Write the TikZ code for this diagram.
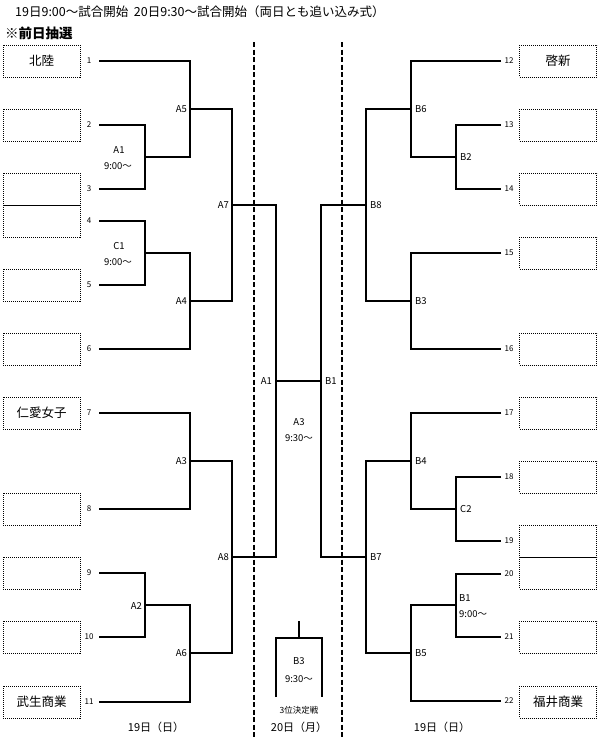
\documentclass[tikz,border=0pt]{standalone}
\usepackage{fontspec}
\setmainfont{Noto Sans CJK JP}
\begin{document}
\begin{tikzpicture}[x=1pt,y=-1pt,
  br/.style={line width=1.2pt},
  sep/.style={line width=1.5pt,dash pattern=on 5pt off 2.5pt},
  team/.style={draw,line width=0.8pt,dash pattern=on 1pt off 1pt,minimum width=77pt,minimum height=32pt,inner sep=0pt,font=\fontsize{12.5}{13}\selectfont},
  seed/.style={inner sep=0pt,font=\fontsize{8}{9}\selectfont},
  lab/.style={inner sep=0pt,font=\fontsize{9.5}{10}\selectfont},
  labl/.style={lab,anchor=east},
  labr/.style={lab,anchor=west},
  day/.style={inner sep=0pt,font=\fontsize{11}{12}\selectfont}]
\useasboundingbox (0,0) rectangle (600,739);
% title
\node[anchor=west,inner sep=0pt,font=\fontsize{12.5}{13}\selectfont] (title) at (15,12) {19日9:00～試合開始\ \ 20日9:30～試合開始（両日とも追い込み式）};
\node[anchor=west,inner sep=0pt,font=\fontsize{13.5}{14}\selectfont\bfseries] (note) at (5,33) {※前日抽選};
% separators
\coordinate (d1t) at (254,42); \coordinate (d1b) at (254,739);
\coordinate (d2t) at (342,42); \coordinate (d2b) at (342,739);
\draw[sep] (d1t) -- (d1b);
\draw[sep] (d2t) -- (d2b);
% left team boxes
\foreach \n/\y/\t in {1/61/北陸,2/125/,3/189/,4/221/,5/285/,6/349/,7/413/仁愛女子,8/509/,9/573/,10/637/,11/702/武生商業}{
  \node[team] (tl\n) at (41.5,\y) {\t};
  \node[seed] (nl\n) at (89,\y) {\n};
  \coordinate (L\n) at (99,\y);
}
% right team boxes
\foreach \n/\y/\yb/\t in {12/61/61/啓新,13/125/125/,14/189/189/,15/253/253/,16/349/349/,17/413/413/,18/477/477/,19/541/541/,20/574/573/,21/637/637/,22/701/702/福井商業}{
  \node[team] (tr\n) at (558,\yb) {\t};
  \node[seed] (nr\n) at (509,\y) {\n};
  \coordinate (R\n) at (501,\y);
}
% left joints
\coordinate (mA1) at (145,157);
\coordinate (mC1) at (145,253);
\coordinate (mA2) at (145,605);
\coordinate (mA5) at (190,109);
\coordinate (mA4) at (190,301);
\coordinate (mA3) at (190,461);
\coordinate (mA6) at (190,653);
\coordinate (mA7) at (232,205);
\coordinate (mA8) at (232,557);
\coordinate (mF) at (276,381);
% right joints
\coordinate (mB2) at (456,157);
\coordinate (mC2) at (456,509);
\coordinate (mB1) at (456,605);
\coordinate (mB6) at (411,109);
\coordinate (mB3) at (411,301);
\coordinate (mB4) at (411,461);
\coordinate (mB5) at (411,653);
\coordinate (mB8) at (366,205);
\coordinate (mB7) at (366,557);
\coordinate (mG) at (321,381);
% left bracket
\draw[br] (L2) -| (mA1) |- (L3);
\draw[br] (L4) -| (mC1) |- (L5);
\draw[br] (L9) -| (mA2) |- (L10);
\draw[br] (L1) -| (mA5) |- (mA1);
\draw[br] (mC1) -| (mA4) |- (L6);
\draw[br] (L7) -| (mA3) |- (L8);
\draw[br] (mA2) -| (mA6) |- (L11);
\draw[br] (mA5) -| (mA7) |- (mA4);
\draw[br] (mA3) -| (mA8) |- (mA6);
\draw[br] (mA7) -| (mF) |- (mA8);
\draw[br] (mF) -- (mG);
% right bracket
\draw[br] (R13) -| (mB2) |- (R14);
\draw[br] (R18) -| (mC2) |- (R19);
\draw[br] (R20) -| (mB1) |- (R21);
\draw[br] (R12) -| (mB6) |- (mB2);
\draw[br] (R15) -| (mB3) |- (R16);
\draw[br] (R17) -| (mB4) |- (mC2);
\draw[br] (mB1) -| (mB5) |- (R22);
\draw[br] (mB6) -| (mB8) |- (mB3);
\draw[br] (mB4) -| (mB7) |- (mB5);
\draw[br] (mB8) -| (mG) |- (mB7);
% left labels
\node[lab] (tA1) at (119,150) {A1};
\node[lab] (tA1t) at (118,166) {9:00～};
\node[lab] (tC1) at (119,246) {C1};
\node[lab] (tC1t) at (118,262) {9:00～};
\node[labl] (tA5) at (187,109) {A5};
\node[labl] (tA4) at (187,301) {A4};
\node[labl] (tA7) at (229,205) {A7};
\node[labl] (tA3) at (187,461) {A3};
\node[labl] (tA2) at (142,606) {A2};
\node[labl] (tA6) at (187,653) {A6};
\node[labl] (tA8) at (229,557) {A8};
\node[labl] (tFA) at (272,381) {A1};
\node[labr] (tFB) at (325,381) {B1};
\node[lab] (tA3f) at (299,422) {A3};
\node[lab] (tA3ft) at (299,438) {9:30～};
% right labels
\node[labr] (tB6) at (415,109) {B6};
\node[labr] (tB2) at (460,157) {B2};
\node[labr] (tB8) at (370,205) {B8};
\node[labr] (tB3) at (415,301) {B3};
\node[labr] (tB4) at (415,461) {B4};
\node[labr] (tC2) at (460,509) {C2};
\node[labr] (tB7) at (370,557) {B7};
\node[labr] (tB1) at (459,598) {B1};
\node[labr] (tB1t) at (459,614) {9:00～};
\node[labr] (tB5) at (415,653) {B5};
% third place
\coordinate (b3top) at (299,621);
\coordinate (b3j) at (299,638);
\coordinate (b3L) at (276,697);
\coordinate (b3R) at (322,697);
\draw[br] (b3L) |- (b3j) -| (b3R);
\draw[br] (b3j) -- (b3top);
\node[lab] (tB3) at (299,661) {B3};
\node[lab] (tB3t) at (299,679) {9:30～};
\node[inner sep=0pt,font=\fontsize{8.5}{9}\selectfont] (third) at (299,710) {3位決定戦};
% days
\node[day] (day1) at (156,727) {19日（日）};
\node[day] (day2) at (299,727) {20日（月）};
\node[day] (day3) at (442,727) {19日（日）};
\end{tikzpicture}
\end{document}
